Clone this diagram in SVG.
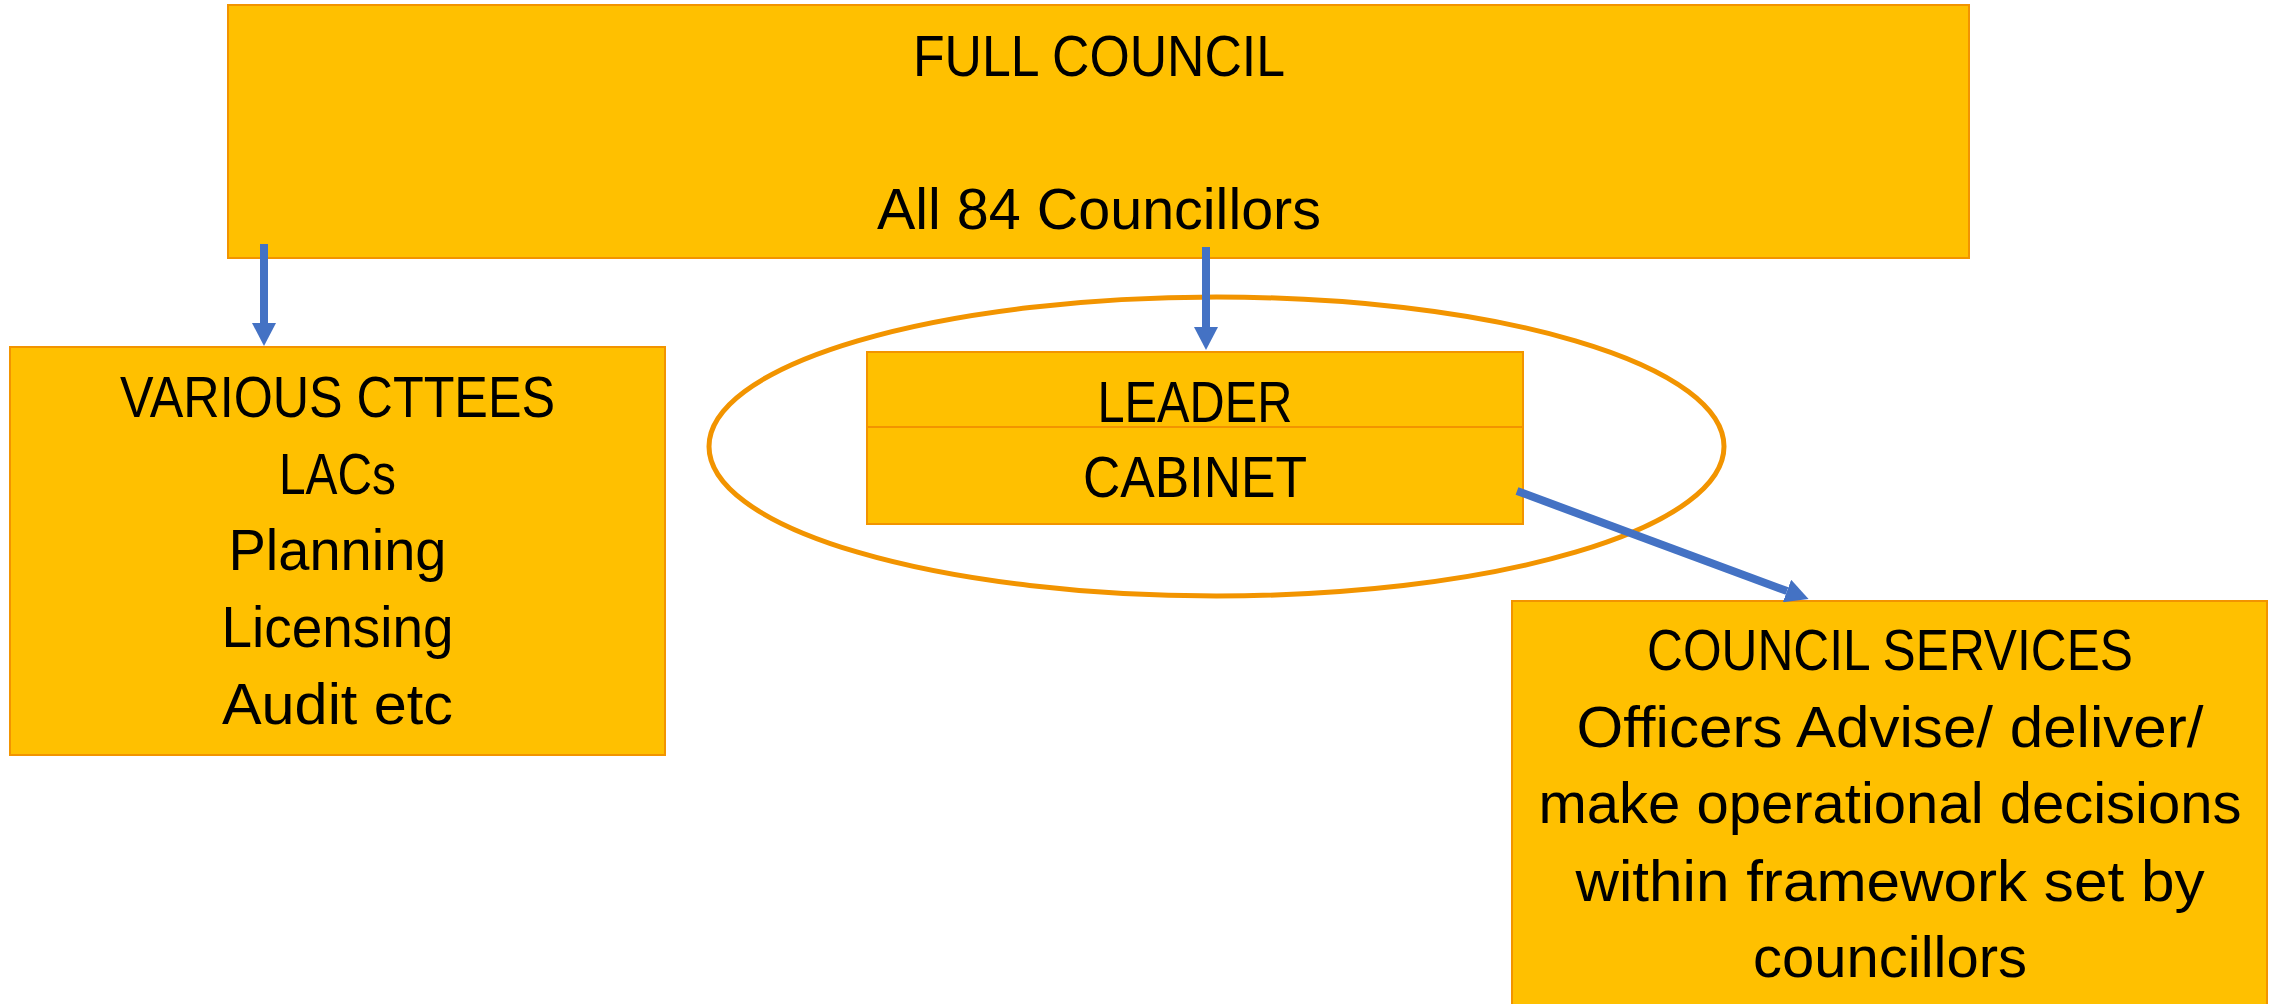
<svg xmlns="http://www.w3.org/2000/svg" width="2279" height="1004" viewBox="0 0 2279 1004">
<style>
  .box { fill: #FFC000; stroke: #F29400; stroke-width: 2; }
  .t { font-family: "Liberation Sans", Arial, sans-serif; font-size: 58px; fill: #000; text-anchor: middle; }
  .conn { stroke: #4472C4; stroke-width: 8; fill: none; }
</style>
<defs>
  <marker id="ah" markerUnits="userSpaceOnUse" markerWidth="24" markerHeight="24" refX="0" refY="12" orient="auto" viewBox="0 0 24 24">
    <path d="M0,0 L23,12 L0,24 Z" fill="#4472C4"/>
  </marker>
</defs>
<rect x="0" y="0" width="2279" height="1004" fill="#FFFFFF"/>
<ellipse id="cabinet-group" cx="1216.5" cy="446.5" rx="507.5" ry="149.5" fill="none" stroke="#F29400" stroke-width="5"/>
<g id="full-council">
  <rect class="box" x="228" y="5" width="1741" height="253"/>
  <text class="t" x="1099" y="76" textLength="372" lengthAdjust="spacingAndGlyphs">FULL COUNCIL</text>
  <text class="t" x="1099" y="229" textLength="444" lengthAdjust="spacingAndGlyphs">All 84 Councillors</text>
</g>
<g id="various-cttees">
  <rect class="box" x="10" y="347" width="655" height="408"/>
  <text class="t" x="337.5" y="417" textLength="435" lengthAdjust="spacingAndGlyphs">VARIOUS CTTEES</text>
  <text class="t" x="337.5" y="494" textLength="117" lengthAdjust="spacingAndGlyphs">LACs</text>
  <text class="t" x="337.5" y="570" textLength="218" lengthAdjust="spacingAndGlyphs">Planning</text>
  <text class="t" x="337.5" y="647" textLength="232" lengthAdjust="spacingAndGlyphs">Licensing</text>
  <text class="t" x="337.5" y="724" textLength="231" lengthAdjust="spacingAndGlyphs">Audit etc</text>
</g>
<g id="leader">
  <rect class="box" x="867" y="352" width="656" height="75"/>
  <text class="t" x="1195" y="422" textLength="195" lengthAdjust="spacingAndGlyphs">LEADER</text>
</g>
<g id="cabinet">
  <rect class="box" x="867" y="427" width="656" height="97"/>
  <text class="t" x="1195" y="497" textLength="224" lengthAdjust="spacingAndGlyphs">CABINET</text>
</g>
<g id="council-services">
  <rect class="box" x="1512" y="601" width="755" height="420"/>
  <text class="t" x="1890" y="670" textLength="486" lengthAdjust="spacingAndGlyphs">COUNCIL SERVICES</text>
  <text class="t" x="1890" y="747" textLength="627" lengthAdjust="spacingAndGlyphs">Officers Advise/ deliver/</text>
  <text class="t" x="1890" y="823" textLength="703" lengthAdjust="spacingAndGlyphs">make operational decisions</text>
  <text class="t" x="1890" y="901" textLength="629" lengthAdjust="spacingAndGlyphs">within framework set by</text>
  <text class="t" x="1890" y="977" textLength="274" lengthAdjust="spacingAndGlyphs">councillors</text>
</g>
<g id="connectors">
  <line class="conn" x1="264" y1="244" x2="264" y2="323" marker-end="url(#ah)"/>
  <line class="conn" x1="1206" y1="247" x2="1206" y2="327" marker-end="url(#ah)"/>
  <line class="conn" x1="1517" y1="491" x2="1787" y2="591" marker-end="url(#ah)"/>
</g>
</svg>
